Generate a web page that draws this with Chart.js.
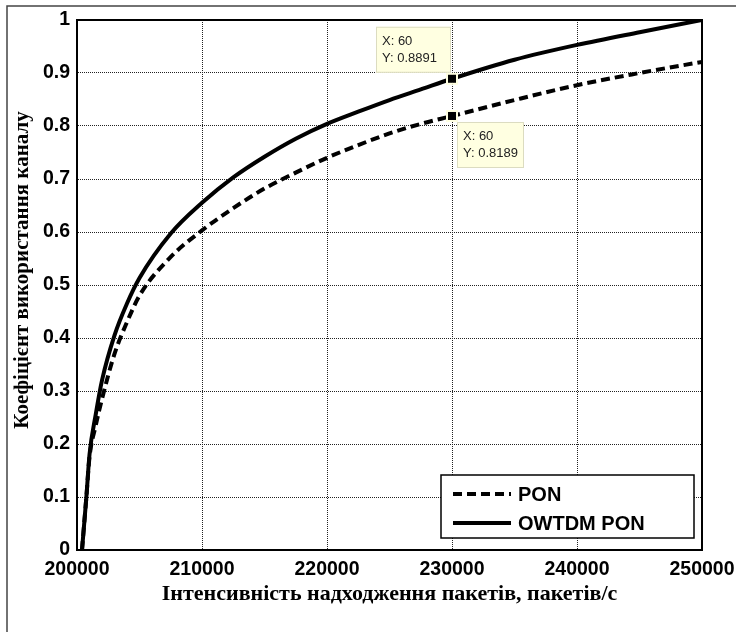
<!DOCTYPE html>
<html>
<head>
<meta charset="utf-8">
<script src="https://cdn.jsdelivr.net/npm/chart.js@4/dist/chart.umd.min.js"></script>
<style>
  html, body { margin: 0; padding: 0; background: #fff; }
  canvas { display: block; }
</style>
</head>
<body>
<canvas id="myChart" width="736" height="632"></canvas>
<script>
// arrival rate, packets/s
const xValues = [200400, 200750, 201000, 201500, 202000, 203000, 204000, 205000, 207500, 210000,
  212500, 215000, 217500, 220000, 222500, 225000, 227500, 230000, 235000, 240000, 245000, 250000];
// channel utilisation
const ponValues = [0, 0.10, 0.175, 0.235, 0.285, 0.37, 0.43, 0.48, 0.553, 0.603,
  0.645, 0.682, 0.712, 0.740, 0.764, 0.786, 0.804, 0.8189, 0.849, 0.877, 0.900, 0.921];
const owtdmValues = [0, 0.10, 0.18, 0.256, 0.32, 0.405, 0.465, 0.513, 0.597, 0.655,
  0.703, 0.742, 0.776, 0.804, 0.827, 0.849, 0.869, 0.8891, 0.925, 0.953, 0.977, 1.0];
const seriesLabels = ['PON', 'OWTDM PON'];
const xTicks = [200000, 210000, 220000, 230000, 240000, 250000];
const yTicks = [0, 0.1, 0.2, 0.3, 0.4, 0.5, 0.6, 0.7, 0.8, 0.9, 1];
const xTitle = 'Інтенсивність надходження пакетів, пакетів/с';
const yTitle = 'Коефіцієнт використання каналу';
// data cursor at sample no. 60
const tipX = 230000;
const tipIndexLabel = 'X: 60';

const toPoints = (ys) => xValues.map((x, i) => ({ x: x, y: ys[i] }));

const tickFont = { family: 'Liberation Sans, Arial, sans-serif', size: 19.5, weight: 'bold' };
const titleFont = { family: 'Liberation Serif, Times New Roman, serif', size: 22, weight: 'bold' };

// figure frame, axes box, y title, legend and data tips
const extras = {
  id: 'extras',
  beforeDraw(chart) {
    const ctx = chart.ctx;
    ctx.save();
    ctx.fillStyle = '#fff';
    ctx.fillRect(0, 0, chart.width, chart.height);
    ctx.strokeStyle = '#444';
    ctx.lineWidth = 1.5;
    ctx.beginPath();
    ctx.moveTo(7, chart.height);
    ctx.lineTo(7, 6);
    ctx.lineTo(chart.width, 6);
    ctx.stroke();

    ctx.translate(23, 270);
    ctx.rotate(-Math.PI / 2);
    ctx.font = 'bold 21px Liberation Serif, Times New Roman, serif';
    ctx.fillStyle = '#000';
    ctx.textAlign = 'center';
    ctx.textBaseline = 'middle';
    ctx.fillText(yTitle, 0, 0);
    ctx.restore();
  },
  afterDatasetsDraw(chart) {
    const ctx = chart.ctx;
    const a = chart.chartArea;
    const xs = chart.scales.x, ys = chart.scales.y;
    ctx.save();
    ctx.strokeStyle = '#000';
    ctx.lineWidth = 2;
    ctx.strokeRect(a.left, a.top, a.right - a.left, a.bottom - a.top);

    // legend
    const lx = 441, ly = 475, lw = 253, lh = 63;
    ctx.fillStyle = '#fff';
    ctx.fillRect(lx, ly, lw, lh);
    ctx.lineWidth = 1.5;
    ctx.strokeRect(lx, ly, lw, lh);
    ctx.font = 'bold 20px Liberation Sans, Arial, sans-serif';
    ctx.textBaseline = 'middle';
    chart.data.datasets.forEach((ds, i) => {
      const y = ly + 19 + i * 29;
      ctx.strokeStyle = '#000';
      ctx.lineWidth = 4;
      ctx.setLineDash(ds.borderDash || []);
      ctx.beginPath();
      ctx.moveTo(lx + 12, y);
      ctx.lineTo(lx + 70, y);
      ctx.stroke();
      ctx.setLineDash([]);
      ctx.fillStyle = '#000';
      ctx.fillText(ds.label, lx + 77, y + 1);
    });

    // data tips
    const idx = xValues.indexOf(tipX);
    const px = xs.getPixelForValue(tipX);
    const tips = [
      { v: owtdmValues[idx], dx: -76, dy: -52 },
      { v: ponValues[idx], dx: 5, dy: 6 }
    ];
    ctx.font = '13px Liberation Sans, Arial, sans-serif';
    ctx.textBaseline = 'alphabetic';
    tips.forEach(t => {
      const py = ys.getPixelForValue(t.v);
      const bx = px + t.dx, by = py + t.dy, bw = (t.dx < 0 ? 75 : 67), bh = 46;
      ctx.fillStyle = '#ffffe1';
      ctx.fillRect(bx, by, bw, bh);
      ctx.strokeStyle = '#dcdcc0';
      ctx.lineWidth = 1;
      ctx.strokeRect(bx + 0.5, by + 0.5, bw - 1, bh - 1);
      ctx.fillStyle = '#222';
      ctx.fillText(tipIndexLabel, bx + 6, by + 18);
      ctx.fillText('Y: ' + t.v.toFixed(4), bx + 6, by + 35);
      ctx.fillStyle = '#ffffe1';
      ctx.fillRect(px - 6, py - 6, 12, 12);
      ctx.fillStyle = '#000';
      ctx.fillRect(px - 4, py - 4, 8, 8);
    });
    ctx.restore();
  }
};

new Chart(document.getElementById('myChart'), {
  type: 'line',
  data: {
    datasets: [
      {
        label: seriesLabels[0],
        data: toPoints(ponValues),
        borderColor: '#000',
        borderWidth: 4,
        borderDash: [9, 5],
        pointRadius: 0,
        cubicInterpolationMode: 'monotone',
        fill: false
      },
      {
        label: seriesLabels[1],
        data: toPoints(owtdmValues),
        borderColor: '#000',
        borderWidth: 4,
        pointRadius: 0,
        cubicInterpolationMode: 'monotone',
        fill: false
      }
    ]
  },
  options: {
    responsive: false,
    devicePixelRatio: 1,
    animation: false,
    events: [],
    layout: { padding: { left: 7, top: 20, right: 34, bottom: 0 } },
    plugins: { legend: { display: false }, tooltip: { enabled: false } },
    scales: {
      x: {
        type: 'linear',
        min: 200000,
        max: 250000,
        afterFit: (s) => { s.height = 82; s.paddingLeft = 0; s.paddingRight = 0; },
        afterBuildTicks: (s) => { s.ticks = xTicks.map(v => ({ value: v })); },
        ticks: { font: tickFont, color: '#000', padding: 8, maxRotation: 0, autoSkip: false,
          callback: (v) => String(v) },
        grid: { color: '#222', lineWidth: 1, drawTicks: false },
        border: { color: '#000', width: 2, dash: [1, 1] },
        title: { display: true, text: xTitle,
          font: titleFont, color: '#000', padding: { top: 0, bottom: 24 } }
      },
      y: {
        type: 'linear',
        min: 0,
        max: 1,
        afterFit: (s) => { s.width = 70; s.paddingTop = 0; s.paddingBottom = 0; },
        afterBuildTicks: (s) => { s.ticks = yTicks.map(v => ({ value: v })); },
        ticks: { font: tickFont, color: '#000', padding: 7, autoSkip: false,
          callback: (v) => String(Math.round(v * 10) / 10) },
        grid: { color: '#222', lineWidth: 1, drawTicks: false },
        border: { color: '#000', width: 2, dash: [1, 1] }
      }
    }
  },
  plugins: [extras]
});
</script>
</body>
</html>
